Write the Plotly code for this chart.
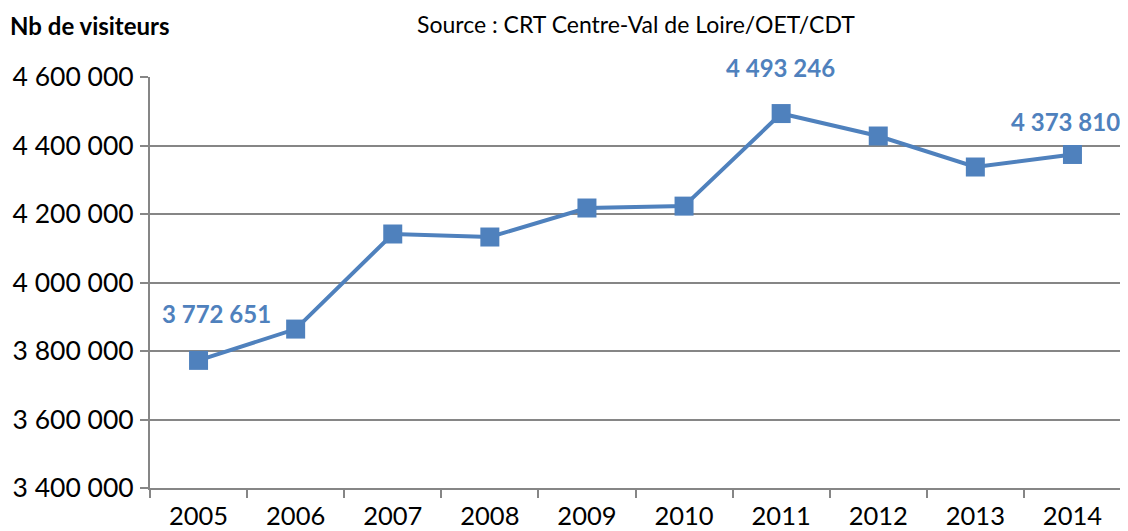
import plotly.graph_objects as go

years = ["2005", "2006", "2007", "2008", "2009", "2010", "2011", "2012", "2013", "2014"]
visitors = [3772651, 3864000, 4141600, 4132800, 4217500, 4223000, 4493246, 4427700, 4337200, 4373810]
labelled = ["2005", "2011", "2014"]
label_shift = {"2005": (18, 47), "2011": (-1, 46), "2014": (-7, 33)}
y_ticks = [3400000, 3600000, 3800000, 4000000, 4200000, 4400000, 4600000]

color = "#4F81BD"
font = "Lato, 'Open Sans', sans-serif"

fig = go.Figure()
fig.add_trace(go.Scatter(
    x=years, y=visitors, mode="lines+markers",
    line=dict(color=color, width=4),
    marker=dict(symbol="square", size=19, color=color),
    showlegend=False, cliponaxis=False,
))

for yr in labelled:
    i = years.index(yr)
    v = visitors[i]
    dx, dy = label_shift[yr]
    fig.add_annotation(
        x=i, y=v, text="<b>" + f"{v:,}".replace(",", " ") + "</b>",
        showarrow=False, xshift=dx, yshift=dy,
        xanchor="center", yanchor="middle",
        font=dict(family=font, size=24, color=color),
    )

fig.add_annotation(xref="paper", yref="paper", x=0, y=1.0, xshift=-142, yshift=52,
                   xanchor="left", yanchor="middle", showarrow=False,
                   text="<b>Nb de visiteurs</b>",
                   font=dict(family=font, size=24, color="black"))
fig.add_annotation(xref="paper", yref="paper", x=0.5, y=1.0, xshift=0, yshift=53,
                   xanchor="center", yanchor="middle", showarrow=False, borderpad=0,
                   text="Source : CRT Centre-Val de Loire/OET/CDT",
                   font=dict(family=font, size=23, color="black"))

# page body adds an 8px margin, so the figure is 8px smaller on each offset side
fig.update_layout(
    width=1120, height=523,
    margin=dict(l=142, r=7, t=69, b=43),
    paper_bgcolor="white", plot_bgcolor="white",
    separators=", ",
    font=dict(family=font, size=26.5, color="black"),
)
fig.update_xaxes(
    type="category", range=[-0.5, 9.5], automargin=False,
    showline=True, linecolor="#868686", linewidth=2,
    ticks="outside", tickson="boundaries", ticklen=8, tickcolor="#868686", tickwidth=2,
    showgrid=False, ticklabelstandoff=4, tickfont=dict(size=25.5),
)
fig.update_yaxes(
    range=[3400000, 4600000], tickvals=y_ticks, tickformat=",d", automargin=False,
    showline=True, linecolor="#868686", linewidth=2,
    ticks="outside", ticklen=8, tickcolor="#868686", tickwidth=2,
    showgrid=True, gridcolor="#868686", gridwidth=1.5,
    zeroline=False, ticklabelstandoff=1,
)

fig.write_html("out.html")
